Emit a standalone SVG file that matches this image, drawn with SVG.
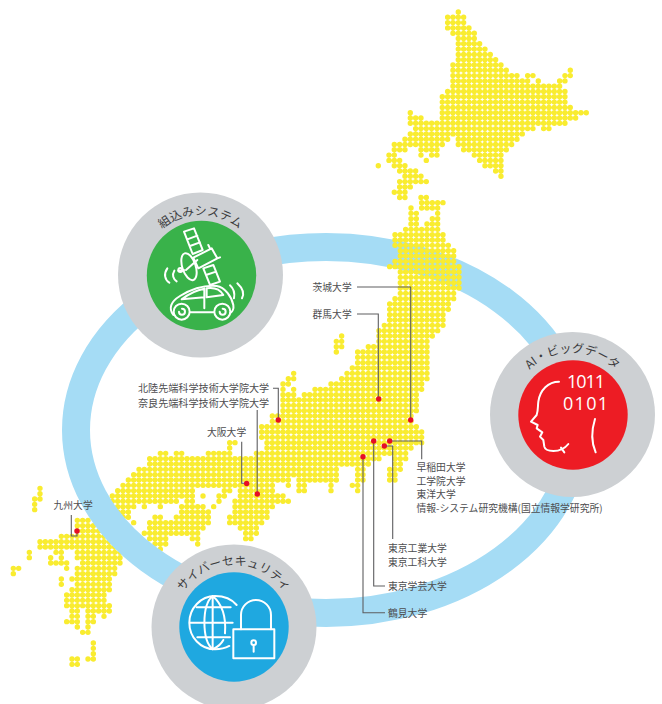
<svg xmlns="http://www.w3.org/2000/svg" width="662" height="704" viewBox="0 0 662 704">
<style>
.d{fill:none;stroke:#f9ec30;stroke-width:1.01;stroke-linecap:round;stroke-dasharray:0 .9999}
.l{font-family:"Noto Sans CJK JP","Noto Sans",sans-serif;font-size:9.8px;fill:#4d4d4f}
.w{font-size:10.1px}
.t{font-family:"Noto Sans CJK JP","Noto Sans",sans-serif;font-size:12px;fill:#3c3c3e;text-anchor:middle}
.g{fill:#cdd0d3}
.c{fill:none;stroke:#5e5e60;stroke-width:1.1}
.r{fill:#e60f25}
.i{fill:none;stroke:#fff;stroke-width:6;stroke-linecap:round;stroke-linejoin:round}
.b{font-family:"Open Sans","Liberation Sans",sans-serif;font-size:18px;fill:#fff}
</style>
<defs>
<path id="a1" d="M140.500 275A60 60 0 0 1 260.500 275"/>
<path id="a2" d="M510.500 414.500A62 62 0 0 1 634.500 414.500"/>
<path id="a3" d="M172 627A62 62 0 0 1 296 627"/>
</defs>
<g id="map-west" transform="translate(261.67 202.67) scale(5.333)">
<path class="d" d="M-25 52H4M5 52h.1M7 52H14M18 52H19M24 52H25
M-26 53H2M5 53h.1M7 53H8M13 53h.1M17 53H18
M-27 54H-13M-7 54H-6M-4 54H2M7 54H8M13 54h.1M18 54h.1
M-28 55H-13M-11 55h.1M-8 55H-7M-4 55H4
M-28 56H-16M-14 56H-13M-8 56h.1M-5 56H5
M-27 57H-24M-22 57h.1M-19 57h.1M-15 57H-11M-9 57h.1M-5 57H2
M-27 58H-25M-15 58H-10M-5 58H1
M-26 59H-25M-20 59H-19M-16 59H-10M-6 59H1
M-24 60h.1M-21 60H-10M-6 60H0
M-21 61H-11M-4 61H-1
M-22 62H-12M-3 62H-1
M-21 63H-18M-13 63H-12M-3 63H-2
M-20 64H-18M-12 64h.1
M-19 65h.1"/>
<path class="d" d="M17 31H31M16 32H31M6 32h.1M15 33H31M5 33H6M13 34H30M4 34H5M10 35H30M4 35h.1M6 35h.1M8 36H29M4 36H6M4 37H29M4 38H29M4 39H29M2 40H28M2 41H28M0 42H29M0 43H30M0 44H30
M-6 45H-5M1 45H30M-6 46h.1M1 46H28
M-19 47H-18M-16 47H-15M-10 47H-6M-1 47H27
M-21 48H22M25 48H27M-21 49H20M25 49H26
M-23 50H14M18 50H19M24 50H26M-24 51H14M18 51H19M24 51H25"/>
</g>
<g id="map-kyushu" transform="translate(2.67 483) scale(5.333)">
<path class="d" d="M7 1h.1M7 2h.1M6 3H7M6 4h.1M6 5h.1M14 7H16M14 8H17M14 9H18M11 10H19M7 11H20M7 12H21
M5 13h.1M10 13H11M14 13H22M5 14h.1M9 14h.1M11 14h.1M14 14H22M9 15H12M15 15H22
M2 16H3M12 16h.1M14 16H21M2 17h.1M14 17H21M11 18h.1M13 18H20M11 19h.1M14 19H20M13 20H20M12 21H19M12 22H19M12 23H20
M13 24H14M16 24H20M13 25H14M16 25H17M19 25h.1M12 26H14M16 26H17M14 27h.1M16 27h.1M15 28H16
M17 30h.1M17 31h.1M17 32h.1M13 33H14M16 33H17M13 34H14"/>
</g>
<ellipse id="ring" cx="326" cy="430" rx="250" ry="183" fill="none" stroke="#a5dcf5" stroke-width="28"/>
<g id="map-hokkaido" transform="translate(458.3 12) scale(5.333 5.3)">
<path class="d" d="M0 0h.1M-2 1H1M-2 2H1M-2 3H2M-1 4H3M0 5H3M0 6H4M0 7H5M0 8H6M0 9H7M-1 10H8M-1 11H9M21 11h.1
M-1 12H11M13 12H14M20 12H21M-1 13H13M15 13h.1M19 13H20M-1 14H19M-2 15H20M-3 16H20M-3 17H20M-3 18H21
M-9 19h.1M-3 19H24M-9 20H-7M-3 20H22M-9 21H20M-8 22H14M16 22H17M-9 23H12M-10 24H-2M0 24H11
M-12 25H-3M0 25H10M-12 26H-10M-7 26H-4M1 26H9M-13 27H-12M-7 27h.1M-5 27H-4M3 27H8M-13 28H-11M-6 28h.1M4 28H8
M-15 29h.1M-12 29H-10M5 29H8M-11 30H-8M7 30H8M-10 31H-7M8 31h.1M-11 32H-6M-11 33H-9M-12 34H-10M-11 35H-10M-7 35H-6"/>
</g>
<g id="map-tohoku" transform="translate(261.67 202.67) scale(5.333)">
<path class="d" d="M30 0H34M28 1h.1M30 1H33M28 2H29M33 2h.1M28 3H29M32 3H33M28 4H29M31 4H33M27 5H33M25 6H34M25 7H34M25 8H35
M26 9H36M26 10H36M25 11H36M24 12H37M26 13H37M26 14H37M26 15H37M26 16H37M26 17H36M25 18H36M24 19H35M24 20H35M24 21H34M24 22H34
M23 23H34M22 24H33M22 25H32M15 25h.1M22 26H31M14 26H15M20 27H31M14 27H15M18 28H31M14 28h.1M18 29H31M18 30H31"/>
</g>
<g id="connectors">
<path class="c" d="M357 287H410.700V420"/>
<path class="c" d="M357 314H378.300V399"/>
<path class="c" d="M273 388.300H278.300V420"/>
<path class="c" d="M257.200 410V494"/>
<path class="c" d="M241.700 441.700V483.300H246.700"/>
<path class="c" d="M71.300 515V536H77V531"/>
<path class="c" d="M389.700 441H421.700V459.300"/>
<path class="c" d="M384.300 446H392.700V539"/>
<path class="c" d="M373.700 441V586H385"/>
<path class="c" d="M363 456.700V612.700H385"/>
</g>
<g id="universities">
<g id="u-ibaraki"><circle class="r" cx="410.700" cy="420" r="2.700"/><text class="l" x="312.500" y="290.500">茨城大学</text></g>
<g id="u-gunma"><circle class="r" cx="378.700" cy="399" r="2.700"/><text class="l" x="312.500" y="317.500">群馬大学</text></g>
<g id="u-jaist"><circle class="r" cx="278.300" cy="420" r="2.700"/><text class="l w" x="138" y="391.500">北陸先端科学技術大学院大学</text></g>
<g id="u-naist"><circle class="r" cx="257.300" cy="494" r="2.700"/><text class="l w" x="138" y="407">奈良先端科学技術大学院大学</text></g>
<g id="u-osaka"><circle class="r" cx="246.700" cy="483.500" r="2.700"/><text class="l" x="207" y="435.500">大阪大学</text></g>
<g id="u-kyushu"><circle class="r" cx="77" cy="531" r="2.700"/><text class="l" x="53.500" y="508.500">九州大学</text></g>
<g id="u-tokyo-group"><circle class="r" cx="389.700" cy="441" r="2.700"/><text class="l" x="416.500" y="470.500">早稲田大学</text><text class="l" x="416.500" y="484.500">工学院大学</text><text class="l" x="416.500" y="497.500">東洋大学</text><text class="l" x="416.500" y="511.500">情報-システム研究機構(国立情報学研究所)</text></g>
<g id="u-titech"><circle class="r" cx="384.300" cy="446" r="2.700"/><text class="l" x="388" y="552">東京工業大学</text><text class="l" x="388" y="565.500">東京工科大学</text></g>
<g id="u-gakugei"><circle class="r" cx="373.700" cy="441" r="2.700"/><text class="l" x="388" y="590">東京学芸大学</text></g>
<g id="u-tsurumi"><circle class="r" cx="363" cy="456.700" r="2.700"/><text class="l" x="388" y="616.500">鶴見大学</text></g>
</g>
<g id="node-embedded">
<circle class="g" cx="200.500" cy="275" r="82.500"/>
<circle cx="201.500" cy="275.500" r="54.700" fill="#39b24a"/>
<text class="t"><textPath href="#a1" startOffset="50%">組込みシステム</textPath></text>
<g transform="translate(110 200) scale(.3333)" class="i">
<path d="M222 95L252 85L278 150L248 162ZM232 118L262 107M240 138L270 127"/>
<path d="M250 173L305 145L322 175L265 205ZM300 145L295 135M322 175L330 172"/>
<path d="M280 205L310 195L330 245L300 255ZM288 225L318 215"/>
<ellipse cx="237" cy="200" rx="20" ry="42" transform="rotate(-18 237 200)"/>
<path d="M222 210L205 212M262 180L228 210"/>
<circle cx="211" cy="210" r="6"/>
<path d="M172 205C160 222 165 240 178 248M193 212C185 225 190 238 200 244"/>
<path d="M190 345C175 325 182 305 210 288C240 270 280 255 320 258C345 262 365 290 370 315C372 328 368 335 360 340"/>
<circle cx="215" cy="335" r="24"/><circle cx="337" cy="335" r="24"/>
<path d="M207 335a9 9 0 1 0 9-9M329 335a9 9 0 1 0 9-9"/>
<path d="M242 337H310M283 265V325M215 298C238 280 260 270 283 266V292ZM290 265C310 262 330 268 340 285L290 292Z"/>
<path d="M360 256C373 268 375 280 372 295M382 250C398 265 404 280 396 295"/>
</g>
</g>
<g id="node-ai">
<circle class="g" cx="572.500" cy="414.500" r="82.500"/>
<circle cx="573" cy="415" r="54.700" fill="#ed1c24"/>
<text class="t"><textPath href="#a2" startOffset="50%">AI・ビッグデータ</textPath></text>
<text class="b" x="567" y="388" textLength="38" lengthAdjust="spacing">1011</text>
<text class="b" x="563" y="410" textLength="45" lengthAdjust="spacing">0101</text>
<g transform="translate(485 325) scale(.3333)" class="i">
<path d="M222 170C190 170 165 195 160 230C158 245 160 255 155 270L138 290L158 300L155 310L172 322L165 335L175 345L178 365C180 375 190 378 205 378C225 378 240 370 250 357M228 368L238 382"/>
<path d="M330 282C318 320 318 350 332 382"/>
</g>
</g>
<g id="node-security">
<circle class="g" cx="234" cy="627" r="82.500"/>
<circle cx="234" cy="627" r="54.700" fill="#1fa8e0"/>
<text class="t"><textPath href="#a3" startOffset="50%">サイバーセキュリティ</textPath></text>
<g transform="translate(140 550) scale(.3333)" class="i">
<path d="M290 165C275 147 250 138 225 138C182 138 148 175 148 218C148 262 182 298 225 298C240 298 255 295 268 288"/>
<path d="M218 138V298M218 138C185 165 185 270 218 298M218 138C250 165 258 210 255 250M218 298C235 290 245 280 250 270M150 218H278M170 172H272M172 262H270"/>
<rect x="280" y="238" width="123" height="87"/>
<path d="M303 238V195A45 45 0 0 1 393 195V238"/>
<circle cx="341" cy="278" r="7"/><path d="M341 285V305"/>
</g>
</g>
</svg>
